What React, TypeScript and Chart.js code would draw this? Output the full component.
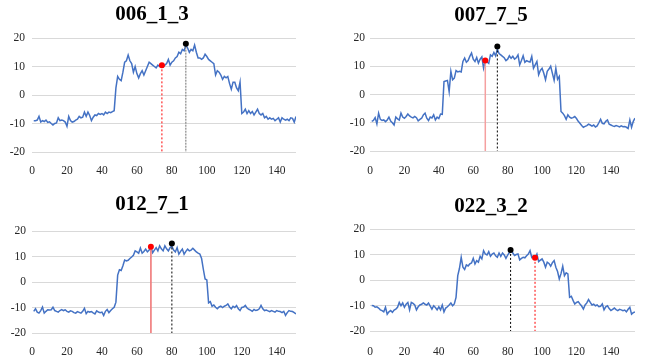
import React, { useEffect, useRef } from "react";
import { Chart, registerables } from "chart.js";

Chart.register(...registerables);

// ---------- data ----------
const titles = ["006_1_3", "007_7_5", "012_7_1", "022_3_2"];

const s006 = [
  -9, -9, -8.8, -7.5, -9.5, -9, -9.3, -8.8, -9.6, -9.4,
  -10, -10.5, -10, -9.8, -8, -9, -8.8, -9, -9.5, -11,
  -7.5, -9, -9.5, -9.3, -8.8, -8.5, -7.5, -8, -7.8, -6,
  -7.5, -6, -7.2, -9, -7.8, -7, -7.2, -6.5, -6.8, -6.5,
  -7, -6, -6.5, -6, -6.2, -5.8, -5.5, 2.5, 6.5, 5.5,
  5, 8, 11.5, 12, 14, 12, 11, 8, 10, 7.5,
  6, 7.5, 8.5, 7, 8.5, 10, 11.5, 11, 10.5, 10,
  9.5, 10.5, 10, 10.2, 9.8, 10.5, 11, 12.5, 10.5, 11.5,
  12, 13, 13.5, 15, 14.5, 16, 15.5, 17.5, 16.5, 15,
  16, 15.5, 17.5, 15, 13, 13, 12.5, 13, 14.3, 13.5,
  12.5, 12, 11.5, 11, 7, 8.5, 8, 7, 5.5, 6.5,
  6, 6.5, 4, 2, 4.5, 4.5, 2.5, 1.5, 4.5, -6.5,
  -6, -5, -6.5, -5.5, -6.5, -5.8, -7, -6, -5, -6.5,
  -7, -6.5, -8, -7.5, -8.5, -8, -8.5, -8.2, -9, -8.5,
  -8, -9.5, -8, -8.5, -8.8, -8.5, -9, -8, -8.2, -9.5, -7.5,
];

const s007 = [
  -9.5, -9.2, -8.2, -10.4, -6.6, -8.8, -9.2, -9, -9.6, -9,
  -8, -9.4, -10, -10.8, -8, -8.6, -9, -6.6, -8, -8.4,
  -7.8, -6.9, -7.6, -8, -8.3, -7.8, -8.2, -9.3, -8.8, -8.4,
  -7.2, -6.6, -8.4, -9.2, -8, -8.3, -7.2, -9, -8, -8.5,
  -6.9, -7, 4.6, 4.8, 5, 1, 8.2, 5.2, 5.8, 8.5,
  8, 8.2, 8, 11.7, 12.9, 11.4, 12, 13.5, 14.7, 12.5,
  11.7, 13.1, 11.1, 12.5, 13.3, 9.3, 12, 11.5, 11, 14,
  13.5, 14.9, 13.7, 16, 14.5, 14, 13.5, 13, 12, 12.5,
  13.7, 12.8, 13.5, 12.5, 13, 14, 10.5, 12, 13.7, 11.4,
  12, 11.7, 11.5, 13.5, 9.3, 10.5, 11.7, 7, 8.5, 9.3,
  7.5, 5.2, 8.2, 9, 10, 7.5, 5, 9.3, 5.4, 6.4,
  -6, -6.6, -7.5, -8.8, -7.2, -8, -8.4, -8.2, -7.8, -8.5,
  -9.5, -10.2, -11, -11.6, -11.3, -11, -10.5, -10.8, -11.2, -10.8,
  -11.5, -11.1, -10, -8.8, -10.2, -10.4, -9.5, -9, -10.5, -10.8,
  -11.1, -11.3, -11, -11.2, -11.5, -11.1, -11.4, -11.3, -11.6, -12,
  -9, -11.6, -9.5, -8.4,
];

const s012 = [
  -11.5, -10.5, -11.8, -12.2, -11.2, -9.8, -12.2, -11.5, -10.9, -11,
  -10.9, -9.9, -11.2, -11.5, -11.8, -11.2, -10.8, -11.2, -10.9, -11.5,
  -11.8, -11.3, -11.5, -12, -12.2, -11.6, -11.9, -12.2, -11.5, -10.3,
  -12.4, -11.5, -11.8, -11.6, -12.1, -12.5, -11.3, -11.8, -12, -11.8,
  -13.1, -11.5, -10.8, -12, -11.2, -10.5, -9.9, -7.9, 2.7, 4.8,
  4.5, 6.4, 8.6, 8.3, 8.5, 9.2, 9.8, 10.5, 12.2, 11.8,
  11.3, 13.3, 11.3, 12, 12.9, 11.8, 12.5, 13.8, 11.5, 12.5,
  13.5, 12.2, 14.2, 13, 12.2, 14.2, 13, 12.2, 13.5, 14,
  12.5, 11.8, 13.5, 10.9, 12, 12.9, 10.9, 12, 12.9, 12.2,
  12.5, 13.2, 12.5, 11.8, 11.3, 11, 9.2, 5, 1.2, 0.8,
  -8.2, -7.7, -9.5, -9, -9.9, -10.5, -9.8, -9.5, -10, -9.5,
  -9.2, -8.6, -9.8, -10.5, -9.5, -10, -9.2, -10.5, -11.2, -10,
  -9.8, -9.2, -10.2, -10.7, -11, -11.5, -10.8, -11.2, -11, -10.5,
  -9.2, -10.5, -11.2, -11, -11.3, -11.6, -11.2, -11.5, -11.8, -11.2,
  -11.5, -11.6, -12, -11.5, -13.1, -12, -11.2, -11.5, -11.6, -12, -12.5,
];

const s022 = [
  -10, -10.1, -10.7, -10.5, -11, -11.7, -12, -12.5, -10.7, -13.4,
  -12.5, -12, -12.7, -11.8, -11.4, -10.7, -8.8, -10.1, -9, -10.7,
  -9.5, -8.8, -11.7, -8.8, -9.2, -9.8, -11.7, -10.5, -9.8, -9.5,
  -9, -9.5, -9.8, -9, -10.2, -11.4, -10.1, -10.8, -11.7, -10.5,
  -11.7, -9.8, -12.5, -11, -10.5, -9.8, -9, -10.1, -9.4, -6.8,
  1.7, 4.6, 8.9, 5, 4.1, 5.9, 5.5, 6.3, 6.7, 8.5,
  6.3, 7.6, 7, 9.3, 8.3, 11.5, 10.2, 9.8, 11.1, 9.3,
  10.2, 10.6, 9.5, 8.9, 10.6, 9.3, 10.6, 9.8, 8.5, 9.8,
  10.8, 11.5, 10.6, 9.6, 10, 10.2, 7.9, 8.5, 8.9, 8.7,
  9.5, 10.2, 11.5, 8.9, 9.5, 8.7, 10.2, 7.2, 7.8, 8.3,
  7, 5, 7, 6.5, 5.4, 6.8, 7.6, 5, 3.3, 0.4,
  2.5, 5.4, 1.7, 2.8, 2.4, -6.8, -6.4, -8, -9.4, -8.8,
  -8.5, -9.4, -10.2, -11.4, -9.8, -9, -7.7, -8.8, -9.8, -9.5,
  -10.1, -9.8, -10.5, -10.3, -9.4, -11.7, -10.5, -10.1, -11.2, -12,
  -11.5, -11, -11.6, -12, -11.5, -11.7, -12, -11.8, -12.5, -11.5,
  -10.7, -13.4, -12.8, -12.5,
];

const seriesList = [s006, s007, s012, s022];

const redMarkX = [74.3, 67, 68, 95.9];
const redMarkY = [10.4, 12, 13.8, 8.7];
const blackMarkX = [88, 74, 80, 81.7];
const blackMarkY = [18, 17, 15.1, 11.8];

const xMaxList = [151, 154, 151, 154];
const yTickMin = -20;
const yTickMax = 20;
const yTickStep = 10;
const xTickStep = 20;

// ---------- layout / styles ----------
const FONT = "'Times New Roman', 'Liberation Serif', serif";

const panels = [
  { left: 8, top: 0, width: 298, height: 175, padRight: 10, yw: 24, titleC: 14.5, plotTop: 38, plotBottom: 152, xPad: 4, yPad: 7,
    redStyle: { color: "#ff0000", dash: [2, 2], width: 1 }, blackStyle: { color: "#707070", dash: [2, 1], width: 1 } },
  { left: 347, top: 0, width: 298, height: 175, padRight: 10, yw: 23, titleC: 15.5, plotTop: 38, plotBottom: 151, xPad: 5, yPad: 5,
    redStyle: { color: "#f5a0a0", dash: [], width: 1.5 }, blackStyle: { color: "#000000", dash: [2, 2], width: 1 } },
  { left: 8, top: 190, width: 298, height: 166, padRight: 10, yw: 24, titleC: 15, plotTop: 41, plotBottom: 143, xPad: 4, yPad: 6,
    redStyle: { color: "#f08080", dash: [], width: 1 }, blackStyle: { color: "#000000", dash: [2, 2], width: 1 } },
  { left: 347, top: 190, width: 298, height: 166, padRight: 10, yw: 23, titleC: 17, plotTop: 39, plotBottom: 141, xPad: 6, yPad: 5,
    redStyle: { color: "#ff0000", dash: [2, 2], width: 1 }, blackStyle: { color: "#000000", dash: [2, 2], width: 1 } },
];

function Panel({ idx }: { idx: number }) {
  const ref = useRef<HTMLCanvasElement | null>(null);
  const p = panels[idx];

  useEffect(() => {
    if (!ref.current) return;
    const values = seriesList[idx];
    const lineData = values.map((v, i) => ({ x: i + 1, y: v }));
    const titleSize = 21;
    const titleLH = titleSize * 1.2;
    const padTop = p.titleC - titleLH / 2;
    const padBottom = p.plotTop - padTop - titleLH;
    const tickFont = { family: FONT, size: 11.5 };

    const chart = new Chart(ref.current, {
      type: "line",
      data: {
        datasets: [
          {
            data: [{ x: redMarkX[idx], y: redMarkY[idx] }],
            showLine: false,
            pointRadius: 3,
            pointBackgroundColor: "#ff0000",
            pointBorderWidth: 0,
            order: 0,
          },
          {
            data: [{ x: blackMarkX[idx], y: blackMarkY[idx] }],
            showLine: false,
            pointRadius: 3,
            pointBackgroundColor: "#000000",
            pointBorderWidth: 0,
            order: 0,
          },
          {
            data: [
              { x: redMarkX[idx], y: redMarkY[idx] },
              { x: redMarkX[idx], y: yTickMin },
            ],
            borderColor: p.redStyle.color,
            borderDash: p.redStyle.dash,
            borderWidth: p.redStyle.width,
            pointRadius: 0,
            order: 1,
          },
          {
            data: [
              { x: blackMarkX[idx], y: blackMarkY[idx] },
              { x: blackMarkX[idx], y: yTickMin },
            ],
            borderColor: p.blackStyle.color,
            borderDash: p.blackStyle.dash,
            borderWidth: p.blackStyle.width,
            pointRadius: 0,
            order: 1,
          },
          {
            data: lineData,
            borderColor: "#4472C4",
            borderWidth: 1.5,
            pointRadius: 0,
            tension: 0,
            order: 2,
          },
        ],
      },
      options: {
        animation: false,
        responsive: false,
        devicePixelRatio: 1,
        layout: { padding: { left: 0, right: p.padRight, top: 0, bottom: 0 } },
        plugins: {
          legend: { display: false },
          tooltip: { enabled: false },
          title: {
            display: true,
            text: titles[idx],
            color: "#000000",
            font: { family: FONT, size: titleSize, weight: "bold", lineHeight: 1.2 },
            padding: { top: padTop, bottom: padBottom },
          },
        },
        scales: {
          x: {
            type: "linear",
            min: 0,
            max: xMaxList[idx],
            afterFit: (s: any) => {
              s.height = p.height - p.plotBottom;
            },
            grid: { display: false },
            border: { display: false },
            ticks: {
              stepSize: xTickStep,
              includeBounds: false,
              autoSkip: false,
              maxRotation: 0,
              padding: p.xPad,
              color: "#262626",
              font: tickFont,
            },
          },
          y: {
            type: "linear",
            min: yTickMin,
            max: yTickMax,
            afterFit: (s: any) => {
              s.width = p.yw;
            },
            grid: { color: "#d9d9d9", lineWidth: 1, drawTicks: false },
            border: { display: false },
            ticks: {
              stepSize: yTickStep,
              padding: p.yPad,
              color: "#262626",
              font: tickFont,
            },
          },
        },
      } as any,
    });
    return () => chart.destroy();
  }, [idx]);

  return (
    <canvas
      ref={ref}
      width={p.width}
      height={p.height}
      style={{ position: "absolute", left: p.left, top: p.top, width: p.width, height: p.height }}
    />
  );
}

export default function App() {
  return (
    <div style={{ position: "fixed", left: 0, top: 0, width: 645, height: 358, background: "#ffffff", overflow: "hidden" }}>
      {titles.map((_, i) => (
        <Panel key={i} idx={i} />
      ))}
    </div>
  );
}
